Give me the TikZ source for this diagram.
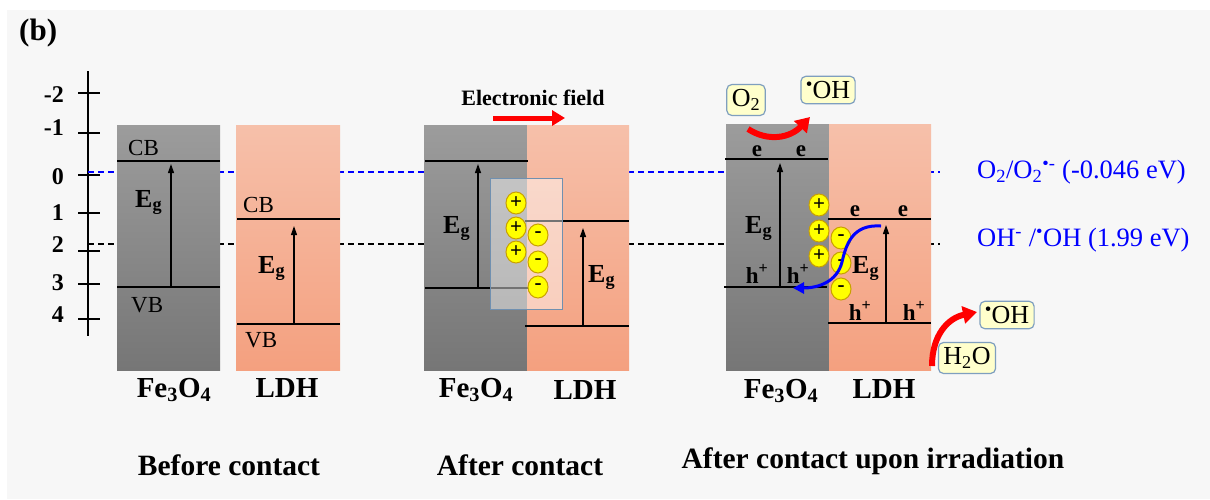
\documentclass[tikz,border=0pt]{standalone}
\usepackage{fontspec}
\setmainfont{Liberation Serif}
\usetikzlibrary{arrows.meta,shapes.geometric}
\definecolor{panelbg}{HTML}{F7F7F7}
\definecolor{gtop}{HTML}{9C9C9C}
\definecolor{gmid}{HTML}{989898}
\definecolor{gbot}{HTML}{767676}
\definecolor{stop}{HTML}{F6C0AA}
\definecolor{smid}{HTML}{F5B095}
\definecolor{sbot}{HTML}{F4A07F}
\definecolor{chgfill}{HTML}{FFFF00}
\definecolor{chgdraw}{HTML}{C8A000}
\definecolor{tagfill}{HTML}{FFFFCC}
\definecolor{tagdraw}{HTML}{7F9FBF}
\definecolor{winblue}{HTML}{7090B0}
\definecolor{txtblue}{HTML}{0000FF}
\newcommand{\fs}[1]{\fontsize{#1}{#1}\selectfont}
\newcommand{\rad}{\raisebox{0.32em}{\fs{19}\textbullet}}
\begin{document}
\begin{tikzpicture}[x=1pt,y=-1pt,
  grayband/.style={shading=axis,top color=gtop,middle color=gmid,bottom color=gbot,draw=none},
  ldhband/.style={shading=axis,top color=stop,middle color=smid,bottom color=sbot,draw=none},
  level/.style={line width=2pt,black},
  gaparrow/.style={line width=1.2pt,-{Triangle[length=9pt,width=6pt]}},
  bandlbl/.style={font=\fs{23},inner sep=0pt,anchor=base west},
  eglbl/.style={font=\fs{26}\bfseries,inner sep=0pt,anchor=base west},
  carrier/.style={font=\fs{23}\bfseries,inner sep=0pt,anchor=base},
  matlbl/.style={font=\fs{29}\bfseries,inner sep=0pt,anchor=base},
  titlelbl/.style={font=\fs{29.5}\bfseries,inner sep=0pt,anchor=base},
  axlbl/.style={font=\fs{24}\bfseries,inner sep=0pt,anchor=east},
  charge/.style={ellipse,minimum width=20pt,minimum height=22pt,inner sep=0pt,fill=chgfill,draw=chgdraw,line width=1pt,font=\fs{21}\bfseries},
  tag/.style={rounded corners=5pt,fill=tagfill,draw=tagdraw,line width=1.2pt,font=\fs{26},inner xsep=5pt,inner ysep=5pt},
  redarrow/.style={red,line width=6pt,-{Triangle[length=14pt,width=17pt]}},
  refline/.style={line width=1.3pt,dash pattern=on 6pt off 4pt},
  bluetxt/.style={font=\fs{26.5},text=txtblue,inner sep=0pt,anchor=west}]
\useasboundingbox (0,0) rectangle (1210,499);
\fill[white] (0,0) rectangle (1210,499);
\fill[panelbg] (7,10) rectangle (1210,499);
\node[font=\fs{31}\bfseries,inner sep=0pt,anchor=west] (b) at (19,33) {(b)};
% axis
\draw[line width=2.5pt] (88,71) -- (88,336);
\foreach \yy/\lab/\ly in {93/-2/95,133/-1/128,175/0/177,213/1/213,251/2/245,284/3/283,319/4/315}{
  \draw[line width=2.5pt] (78,\yy) -- (100,\yy);
  \node[axlbl] at (64,\ly) {\lab};
}
% reference lines
\draw[refline,txtblue] (88,172) -- (940,172);
\draw[refline,black] (88,244) -- (940,244);
% ---------- Before contact ----------
\fill[grayband] (117,125) rectangle (220,370);
\fill[ldhband] (236,125) rectangle (340,370);
\coordinate (f1cbL) at (117,161); \coordinate (f1cbR) at (220,161);
\coordinate (f1vbL) at (117,287); \coordinate (f1vbR) at (220,287);
\draw[level] (f1cbL) -- (f1cbR);
\draw[level] (f1vbL) -- (f1vbR);
\coordinate (f1a) at (171,287); \coordinate (f1b) at (171,164);
\draw[gaparrow] (f1a) -- (f1b);
\node[bandlbl] at (128,155) {CB};
\node[bandlbl] at (131,312) {VB};
\node[eglbl] at (135,207) {E\textsubscript{g}};
\coordinate (l1cbL) at (237,219); \coordinate (l1cbR) at (340,219);
\coordinate (l1vbL) at (237,324); \coordinate (l1vbR) at (340,324);
\draw[level] (l1cbL) -- (l1cbR);
\draw[level] (l1vbL) -- (l1vbR);
\coordinate (l1a) at (294,324); \coordinate (l1b) at (294,226);
\draw[gaparrow] (l1a) -- (l1b);
\node[bandlbl] at (243,212) {CB};
\node[bandlbl] at (245,347) {VB};
\node[eglbl] at (258,273) {E\textsubscript{g}};
\node[matlbl] at (174,397) {Fe\textsubscript{3}O\textsubscript{4}};
\node[matlbl] at (287,397) {LDH};
\node[titlelbl] at (229,475) {Before contact};
% ---------- After contact ----------
\fill[grayband] (424,125) rectangle (527,370);
\fill[ldhband] (527,125) rectangle (629,370);
\draw[level] (425,161) -- (528,161);
\draw[level] (425,288) -- (528,288);
\coordinate (f2a) at (478,288); \coordinate (f2b) at (478,164);
\draw[gaparrow] (f2a) -- (f2b);
\node[eglbl] at (443,233) {E\textsubscript{g}};
\draw[level] (525,221) -- (629,221);
\draw[level] (525,326) -- (629,326);
\coordinate (l2a) at (583,326); \coordinate (l2b) at (583,228);
\draw[gaparrow] (l2a) -- (l2b);
\node[eglbl] at (588,282) {E\textsubscript{g}};
\fill[white,fill opacity=0.45] (490,178) rectangle (562,309);
\draw[winblue,line width=1pt] (490,178) rectangle (562,309);
\foreach \yy [count=\i] in {203,228,252}{\node[charge] (p2\i) at (516,\yy) {+};}
\foreach \yy [count=\i] in {235,262,287}{\node[charge] (m2\i) at (538,\yy) {-};}
\node[font=\fs{22}\bfseries,inner sep=0pt] (ef) at (533,98) {Electronic field};
\coordinate (efa) at (493,118); \coordinate (efb) at (565,118);
\draw[red,line width=5pt,-{Triangle[length=13pt,width=15pt]}] (efa) -- (efb);
\node[matlbl] at (476,397) {Fe\textsubscript{3}O\textsubscript{4}};
\node[matlbl] at (585,399) {LDH};
\node[titlelbl] at (520,475) {After contact};
% ---------- After contact upon irradiation ----------
\fill[grayband] (726,124) rectangle (829,370);
\fill[ldhband] (829,124) rectangle (931,370);
\draw[level] (725,159) -- (828,159);
\draw[level] (724,287) -- (827,287);
\coordinate (f3a) at (780,287); \coordinate (f3b) at (780,163);
\draw[gaparrow] (f3a) -- (f3b);
\node[carrier] at (757,156) {e};
\node[carrier] at (801,156) {e};
\node[carrier] at (757,283) {h\textsuperscript{+}};
\node[carrier] at (798,283) {h\textsuperscript{+}};
\node[eglbl] at (745,233) {E\textsubscript{g}};
\draw[level] (828,219) -- (931,219);
\draw[level] (828,323) -- (931,323);
\coordinate (l3a) at (886,323); \coordinate (l3b) at (886,225);
\draw[gaparrow] (l3a) -- (l3b);
\node[carrier] at (855,216) {e};
\node[carrier] at (903,216) {e};
\node[carrier] at (860,320) {h\textsuperscript{+}};
\node[carrier] at (914,320) {h\textsuperscript{+}};
\foreach \yy [count=\i] in {205,231,256}{\node[charge] (p3\i) at (819,\yy) {+};}
\foreach \yy [count=\i] in {238,263,289}{\node[charge] (m3\i) at (841,\yy) {-};}
\node[eglbl] at (852,273) {E\textsubscript{g}};
\coordinate (bs) at (881,226); \coordinate (be) at (793,288);
\draw[txtblue,line width=3pt,-{Triangle[length=11pt,width=11pt]}]
  (bs) .. controls (852,224) and (846,245) .. (842,262) .. controls (837,282) and (818,288) .. (be);
\node[tag] (o2) at (746,100) {O\textsubscript{2}};
\node[tag] (oh1) at (828,90) {\rad OH};
\coordinate (r1s) at (748,129); \coordinate (r1e) at (810,117);
\draw[redarrow] (r1s) .. controls (768,142) and (790,138) .. (r1e);
\node[tag] (oh2) at (1007,315) {\rad OH};
\node[tag] (h2o) at (967,358) {H\textsubscript{2}O};
\coordinate (r2s) at (932,366); \coordinate (r2e) at (977,312);
\draw[redarrow] (r2s) .. controls (932,335) and (948,318) .. (r2e);
\node[matlbl] at (781,398) {Fe\textsubscript{3}O\textsubscript{4}};
\node[matlbl] at (884,398) {LDH};
\node[titlelbl] at (873,468) {After contact upon irradiation};
% reference labels
\node[bluetxt] at (977,172) {O\textsubscript{2}/O\textsubscript{2}\textsuperscript{\textbullet-} (-0.046 eV)};
\node[bluetxt] at (977,240) {OH\textsuperscript{-} /\textsuperscript{\textbullet}OH (1.99 eV)};
\end{tikzpicture}
\end{document}
